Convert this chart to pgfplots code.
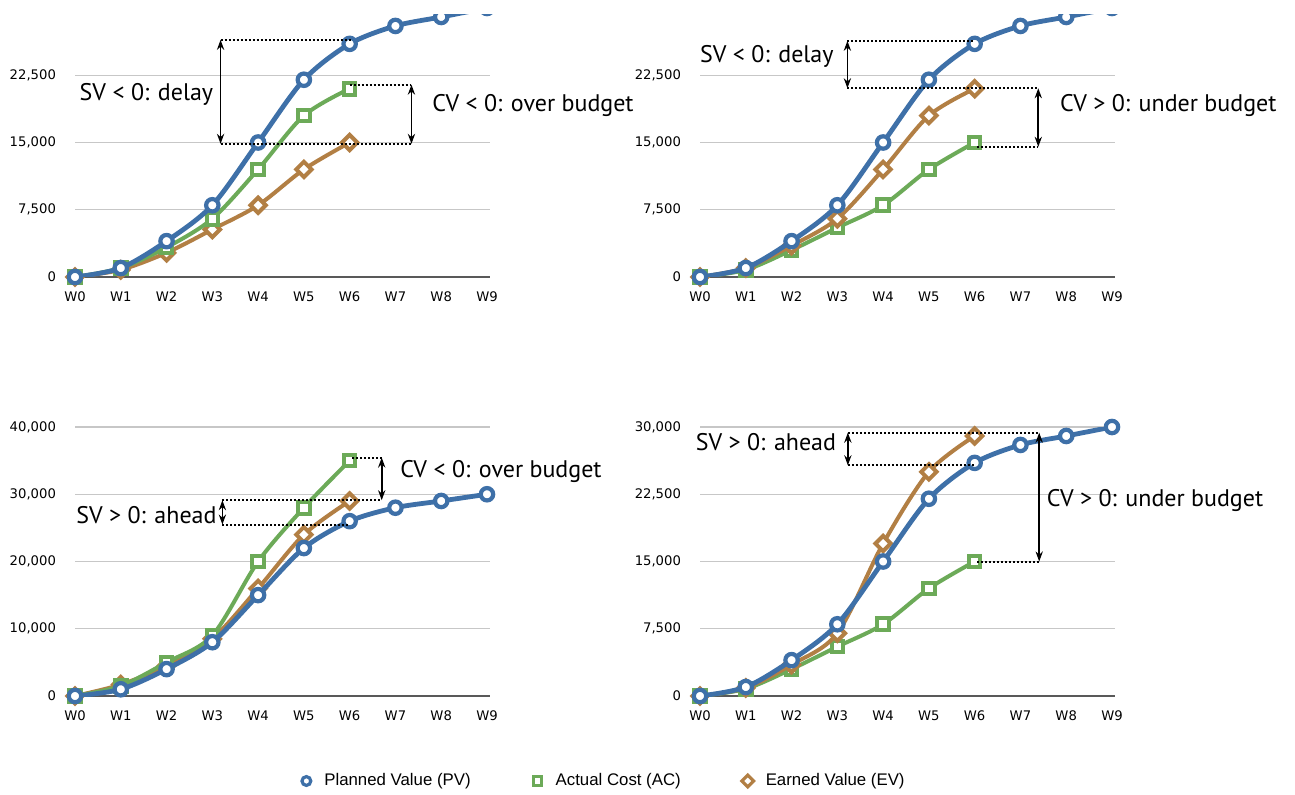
\documentclass[border=0pt]{standalone}
\usepackage{pgfplots}
\pgfplotsset{compat=1.18}
\usepackage{fontspec}
\setmainfont{DejaVu Sans}
\newfontfamily\annfont{PT Sans}
\newfontfamily\legfont{Liberation Sans}
\usetikzlibrary{arrows.meta}
\definecolor{pvblue}{RGB}{62,112,168}
\definecolor{acgreen}{RGB}{108,170,88}
\definecolor{evbrown}{RGB}{178,127,68}
\pgfplotsset{
  evm/.style={
    scale only axis, width=207.6pt, height=134.5pt,
    xmin=0, xmax=9.07, ymin=0,
    axis line style={draw=none},
    major tick length=0pt,
    scaled y ticks=false,
    xtick={0,...,9},
    xticklabels={W0,W1,W2,W3,W4,W5,W6,W7,W8,W9},
    ymajorgrids, grid style={black!22, line width=0.6pt},
    ticklabel style={font=\fontsize{6.6}{7}\selectfont},
    xticklabel style={yshift=-3.8pt},
    yticklabel style={xshift=-6pt},
    clip mode=individual,
    anchor=south west,
  },
  pv/.style={color=pvblue, line width=2.4pt, smooth, mark=*, mark size=3.1pt,
    mark options={fill=white, draw=pvblue, line width=2.1pt}},
  ac/.style={color=acgreen, line width=2pt, smooth, mark=square*, mark size=2.9pt,
    mark options={fill=white, draw=acgreen, line width=2pt}},
  ev/.style={color=evbrown, line width=2pt, smooth, mark=square*, mark size=2.7pt,
    mark options={fill=white, draw=evbrown, line width=2pt, rotate=45}},
}
\tikzset{
  dots/.style={black, line width=1pt, dash pattern=on 1pt off 1pt},
  arr/.style={black, line width=0.9pt, {Stealth[length=5pt,width=3.6pt]}-{Stealth[length=5pt,width=3.6pt]}},
  ann/.style={inner sep=0pt, font=\annfont\fontsize{12}{14}\selectfont},
}
\newcommand\zeroline{\draw[black!65, line width=0.9pt] (axis cs:0,0) -- (axis cs:9.07,0);}
\newcommand\pvdata{\addplot[pv] coordinates {(0,0)(1,1000)(2,4000)(3,8000)(4,15000)(5,22000)(6,26000)(7,28000)(8,29000)(9,30000)};}
\begin{document}
\begin{tikzpicture}
\useasboundingbox (0pt,0pt) rectangle (647.5pt,397pt);
\begin{scope}
\clip (0pt,0pt) rectangle (647.5pt,389.5pt);
% top left
\begin{axis}[evm, at={(37.5pt,258.5pt)}, ymax=30000,
  ytick={0,7500,15000,22500}, yticklabels={0,{7,500},{15,000},{22,500}}]
\zeroline
\addplot[ev] coordinates {(0,0)(1,800)(2,2700)(3,5300)(4,8000)(5,12000)(6,15000)};
\addplot[ac] coordinates {(0,0)(1,1000)(2,3300)(3,6500)(4,12000)(5,18000)(6,21000)};
\pvdata
\draw[dots] (axis cs:3.18,26450) -- (axis cs:6.03,26450);
\draw[dots] (axis cs:3.18,14850) -- (axis cs:7.35,14850);
\draw[dots] (axis cs:6.0,21450) -- (axis cs:7.35,21450);
\draw[arr] (axis cs:3.18,26450) -- (axis cs:3.18,14850);
\draw[arr] (axis cs:7.35,21450) -- (axis cs:7.35,14850);
\node[ann] at (axis cs:1.56,20357) {SV < 0: delay};
\node[ann, anchor=west] at (axis cs:7.8,19175) {CV < 0: over budget};
\end{axis}
% top right
\begin{axis}[evm, at={(350pt,258.5pt)}, ymax=30000,
  ytick={0,7500,15000,22500}, yticklabels={0,{7,500},{15,000},{22,500}}]
\zeroline
\addplot[ac] coordinates {(0,0)(1,800)(2,3000)(3,5500)(4,8000)(5,12000)(6,15000)};
\addplot[ev] coordinates {(0,0)(1,1000)(2,3500)(3,6500)(4,12000)(5,18000)(6,21000)};
\pvdata
\draw[dots] (axis cs:3.22,26342) -- (axis cs:5.97,26342);
\draw[dots] (axis cs:3.22,21050) -- (axis cs:7.39,21050);
\draw[dots] (axis cs:6.06,14520) -- (axis cs:7.39,14520);
\draw[arr] (axis cs:3.22,26342) -- (axis cs:3.22,21050);
\draw[arr] (axis cs:7.39,21050) -- (axis cs:7.39,14520);
\node[ann] at (axis cs:1.46,24606) {SV < 0: delay};
\node[ann, anchor=west] at (axis cs:7.86,19175) {CV > 0: under budget};
\end{axis}
\end{scope}
% bottom left
\begin{axis}[evm, at={(37.5pt,49pt)}, ymax=40000,
  ytick={0,10000,20000,30000,40000}, yticklabels={0,{10,000},{20,000},{30,000},{40,000}}]
\zeroline
\addplot[ev] coordinates {(0,0)(1,1700)(2,4500)(3,8500)(4,16000)(5,24000)(6,29000)};
\addplot[ac] coordinates {(0,0)(1,1500)(2,5000)(3,9000)(4,20000)(5,28000)(6,35000)};
\pvdata
\draw[dots] (axis cs:6.06,35450) -- (axis cs:6.70,35450);
\draw[dots] (axis cs:3.22,29110) -- (axis cs:6.70,29110);
\draw[dots] (axis cs:3.22,25500) -- (axis cs:5.99,25500);
\draw[arr] (axis cs:6.70,35450) -- (axis cs:6.70,29110);
\draw[arr] (axis cs:3.22,29110) -- (axis cs:3.22,25500);
\node[ann] at (axis cs:1.56,26880) {SV > 0: ahead};
\node[ann, anchor=west] at (axis cs:7.10,33317) {CV < 0: over budget};
\end{axis}
% bottom right
\begin{axis}[evm, at={(350pt,49pt)}, ymax=30000,
  ytick={0,7500,15000,22500,30000}, yticklabels={0,{7,500},{15,000},{22,500},{30,000}}]
\zeroline
\addplot[ac] coordinates {(0,0)(1,800)(2,3000)(3,5500)(4,8000)(5,12000)(6,15000)};
\addplot[ev] coordinates {(0,0)(1,900)(2,3500)(3,7000)(4,17000)(5,25000)(6,29000)};
\pvdata
\draw[dots] (axis cs:3.23,29369) -- (axis cs:7.41,29369);
\draw[dots] (axis cs:3.23,25730) -- (axis cs:6.0,25730);
\draw[dots] (axis cs:6.06,15000) -- (axis cs:7.41,15000);
\draw[arr] (axis cs:3.23,29369) -- (axis cs:3.23,25730);
\draw[arr] (axis cs:7.41,29369) -- (axis cs:7.41,15000);
\node[ann] at (axis cs:1.44,28329) {SV > 0: ahead};
\node[ann, anchor=west] at (axis cs:7.57,21832) {CV > 0: under budget};
\end{axis}
% legend
\begin{axis}[hide axis, scale only axis, width=10pt, height=10pt,
  xmin=0, xmax=1, ymin=0, ymax=1, at={(302pt,6.5pt)}, anchor=center,
  legend columns=3,
  legend style={at={(0.5,0.5)}, anchor=center, draw=none, fill=none,
    font=\legfont\fontsize{8.4}{10}\selectfont,
    /tikz/every even column/.append style={column sep=28pt}},
  legend image code/.code={\path[draw=none] (-3.5pt,0pt) -- (7pt,0pt);
    \draw[mark repeat=2,mark phase=2,#1] plot coordinates {(-3.5pt,0pt)(0pt,0pt)(7pt,0pt)};}]
\addlegendimage{only marks, mark=*, mark size=2.2pt, mark options={fill=white, draw=pvblue, line width=1.6pt}}
\addlegendentry{Planned Value (PV)}
\addlegendimage{only marks, mark=square*, mark size=2.1pt, mark options={fill=white, draw=acgreen, line width=1.6pt}}
\addlegendentry{Actual Cost (AC)}
\addlegendimage{only marks, mark=square*, mark size=2.1pt, mark options={fill=white, draw=evbrown, line width=1.6pt, rotate=45}}
\addlegendentry{Earned Value (EV)}
\end{axis}
\end{tikzpicture}
\end{document}
